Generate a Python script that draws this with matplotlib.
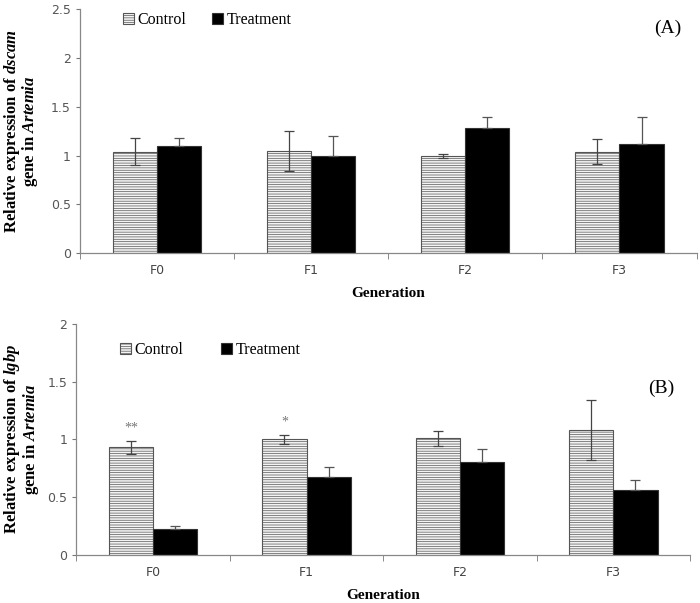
import matplotlib
matplotlib.use("Agg")
import matplotlib.pyplot as plt
import numpy as np

plt.rcParams['font.family'] = 'Liberation Serif'
plt.rcParams['mathtext.fontset'] = 'custom'
plt.rcParams['mathtext.rm'] = 'Liberation Serif:bold'
plt.rcParams['mathtext.it'] = 'Liberation Serif:bold:italic'
plt.rcParams['hatch.color'] = '#c8c8c8'
plt.rcParams['hatch.linewidth'] = 0.5

# dados
geracoes = ['F0', 'F1', 'F2', 'F3']

dscam_controle = [1.04, 1.045, 1.00, 1.04]
dscam_controle_err = [0.14, 0.205, 0.02, 0.125]
dscam_tratamento = [1.10, 1.00, 1.28, 1.12]
dscam_tratamento_err = [0.075, 0.20, 0.11, 0.27]

lgbp_controle = [0.93, 1.00, 1.01, 1.08]
lgbp_controle_err = [0.055, 0.04, 0.065, 0.26]
lgbp_tratamento = [0.22, 0.67, 0.80, 0.56]
lgbp_tratamento_err = [0.03, 0.09, 0.12, 0.09]

lgbp_sig = ['**', '*', '', '']

fig = plt.figure(figsize=(7, 6.03), dpi=100)
axA = fig.add_axes([0.114, 0.580, 0.881, 0.405])
axB = fig.add_axes([0.109, 0.080, 0.877, 0.383])

x = np.arange(len(geracoes))
w = 0.287


def desenha(ax, ctrl, ctrl_err, trat, trat_err, ymax, gene, letra, leg_y, espaco, ylab_x):
    ax.bar(x - w / 2, ctrl, w, color='#f4f4f4', edgecolor='#555555', hatch='-------',
           linewidth=0.8, label='Control')
    ax.bar(x + w / 2, trat, w, color='black', edgecolor='#333333', linewidth=0.8,
           label='Treatment')
    ax.errorbar(x - w / 2, ctrl, yerr=ctrl_err, fmt='none', ecolor='#444444',
                elinewidth=0.9, capsize=3.5, capthick=0.9)
    # a parte de baixo fica escondida na barra preta
    ax.errorbar(x + w / 2, trat, yerr=[np.zeros(len(trat)), trat_err], fmt='none',
                ecolor='#555555', elinewidth=0.9, capsize=3.5, capthick=0.9)
    ax.set_xlim(-0.5, len(geracoes) - 0.5)
    ax.set_ylim(0, ymax)
    ticks = np.arange(0, ymax + 0.01, 0.5)
    ax.set_yticks(ticks)
    ax.set_yticklabels([f'{v:g}' for v in ticks], fontfamily='DejaVu Sans',
                       fontsize=9, color='#555555')
    ax.set_xticks(x)
    ax.set_xticklabels(geracoes, fontfamily='DejaVu Sans', fontsize=9, color='#444444')
    ax.set_xticks(np.arange(-0.5, len(geracoes), 1), minor=True)
    ax.tick_params(axis='x', which='major', length=0, pad=8)
    ax.tick_params(axis='x', which='minor', length=4, color='#777777', direction='out')
    ax.tick_params(axis='y', length=3, color='#777777', direction='out')
    for s in ['top', 'right']:
        ax.spines[s].set_visible(False)
    for s in ['left', 'bottom']:
        ax.spines[s].set_color('#888888')
        ax.spines[s].set_linewidth(0.9)
    ax.set_xlabel('Generation', fontsize=11, fontweight='bold', labelpad=7)
    ax.set_ylabel('Relative expression of $\\it{' + gene + '}$\ngene in $\\it{Artemia}$',
                  fontsize=12, fontweight='bold', linespacing=0.9)
    ax.yaxis.set_label_coords(ylab_x, 0.5)
    ax.text(0.975, letra[1], letra[0], transform=ax.transAxes, fontsize=14,
            ha='right', va='center')
    ax.legend(loc='upper left', bbox_to_anchor=(0.06, leg_y), ncol=2, frameon=False,
              fontsize=11.5, handlelength=0.7, handleheight=0.7, handletextpad=0.2,
              columnspacing=espaco, borderaxespad=0)


desenha(axA, dscam_controle, dscam_controle_err, dscam_tratamento, dscam_tratamento_err,
        2.5, 'dscam', ('(A)', 0.92), 1.015, 1.6, -0.064)
desenha(axB, lgbp_controle, lgbp_controle_err, lgbp_tratamento, lgbp_tratamento_err,
        2.0, 'lgbp', ('(B)', 0.72), 0.95, 2.4, -0.058)

for i, s in enumerate(lgbp_sig):
    if s:
        axB.text(x[i] - w / 2, lgbp_controle[i] + lgbp_controle_err[i] + 0.11, s,
                 ha='center', va='center', fontsize=10, color='#777777')

fig.savefig('out.png', dpi=100)
